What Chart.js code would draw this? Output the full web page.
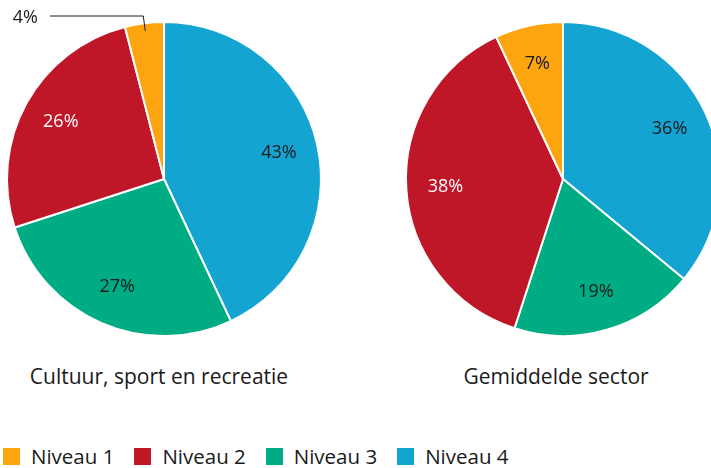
<!DOCTYPE html>
<html>
<head>
<meta charset="utf-8">
<script src="https://cdn.jsdelivr.net/npm/chart.js@4"></script>
<style>
  html, body { margin: 0; padding: 0; background: #fff; }
  body { width: 711px; height: 468px; position: relative; overflow: hidden; font-family: "Open Sans", sans-serif; color: #1a1a1a; }
  .pie { position: absolute; top: 0; width: 340px; height: 340px; }
  .title { position: absolute; top: 362px; font-size: 21px; line-height: 28px; text-align: center; width: 340px; white-space: nowrap; }
  #legend { position: absolute; left: 3px; top: 442px; display: flex; font-size: 20.5px; line-height: 28px; }
  #legend .item { display: flex; align-items: center; margin-right: 20px; }
  #legend .box { width: 17px; height: 17px; margin-right: 11px; }
</style>
</head>
<body>
<div class="pie" style="left:0px"><canvas id="pieLeft"></canvas></div>
<div class="pie" style="left:390px"><canvas id="pieRight"></canvas></div>
<div class="title" style="left:-11px">Cultuur, sport en recreatie</div>
<div class="title" style="left:386px">Gemiddelde sector</div>
<div id="legend"></div>

<script>
// legend order: Niveau 1..4
const levels = ['Niveau 1', 'Niveau 2', 'Niveau 3', 'Niveau 4'];
const colors = ['#FDA50F', '#BF1727', '#00AC84', '#14A4D1'];
const textColors = ['#1a1a1a', '#ffffff', '#1a1a1a', '#1a1a1a'];

const titles = ['Cultuur, sport en recreatie', 'Gemiddelde sector'];
const cultuurValues = [4, 26, 27, 43];
const sectorValues = [7, 38, 19, 36];

// pies run clockwise from the top starting with Niveau 4
const rev = arr => arr.slice().reverse();

const pctLabels = {
    id: 'pctLabels',
    afterDatasetsDraw(chart) {
        const ctx = chart.ctx;
        const ds = chart.data.datasets[0];
        const meta = chart.getDatasetMeta(0);
        ctx.save();
        ctx.font = '18px "Open Sans"';
        meta.data.forEach((arc, i) => {
            const p = arc.getProps(['x', 'y', 'startAngle', 'endAngle', 'outerRadius'], true);
            const mid = (p.startAngle + p.endAngle) / 2;
            const v = ds.data[i];
            const txt = v + '%';
            if (v < 5) {
                // small slice: label outside with a leader line
                const ax = p.x + Math.cos(mid) * p.outerRadius * 0.95;
                const ay = p.y + Math.sin(mid) * p.outerRadius * 0.95;
                const ly = p.y - p.outerRadius - 6;
                ctx.strokeStyle = '#1a1a1a';
                ctx.lineWidth = 1;
                ctx.beginPath();
                ctx.moveTo(ax, ay);
                ctx.lineTo(ax - 2, ly);
                ctx.lineTo(50, ly);
                ctx.stroke();
                ctx.fillStyle = '#1a1a1a';
                ctx.textAlign = 'right';
                ctx.textBaseline = 'middle';
                ctx.fillText(txt, 38, ly + 2);
            } else {
                const r = p.outerRadius * 0.75;
                ctx.fillStyle = ds.labelColors[i];
                ctx.textAlign = 'center';
                ctx.textBaseline = 'middle';
                ctx.fillText(txt, p.x + Math.cos(mid) * r, p.y + Math.sin(mid) * r);
            }
        });
        ctx.restore();
    }
};

function makePie(id, values, padding) {
    new Chart(document.getElementById(id), {
        type: 'pie',
        data: {
            labels: rev(levels),
            datasets: [{
                data: rev(values),
                backgroundColor: rev(colors),
                labelColors: rev(textColors),
                borderColor: '#ffffff',
                borderWidth: 2
            }]
        },
        options: {
            responsive: true,
            maintainAspectRatio: false,
            animation: false,
            layout: { padding: padding },
            plugins: {
                legend: { display: false },
                tooltip: { enabled: false }
            }
        },
        plugins: [pctLabels]
    });
}

makePie('pieLeft', cultuurValues, { left: 6, right: 18, top: 21, bottom: 3 });
makePie('pieRight', sectorValues, { left: 15, right: 9, top: 21, bottom: 3 });

const legend = document.getElementById('legend');
levels.forEach((name, i) => {
    const item = document.createElement('div');
    item.className = 'item';
    item.innerHTML = '<span class="box" style="background:' + colors[i] + '"></span><span>' + name + '</span>';
    legend.appendChild(item);
});
</script>
</body>
</html>
